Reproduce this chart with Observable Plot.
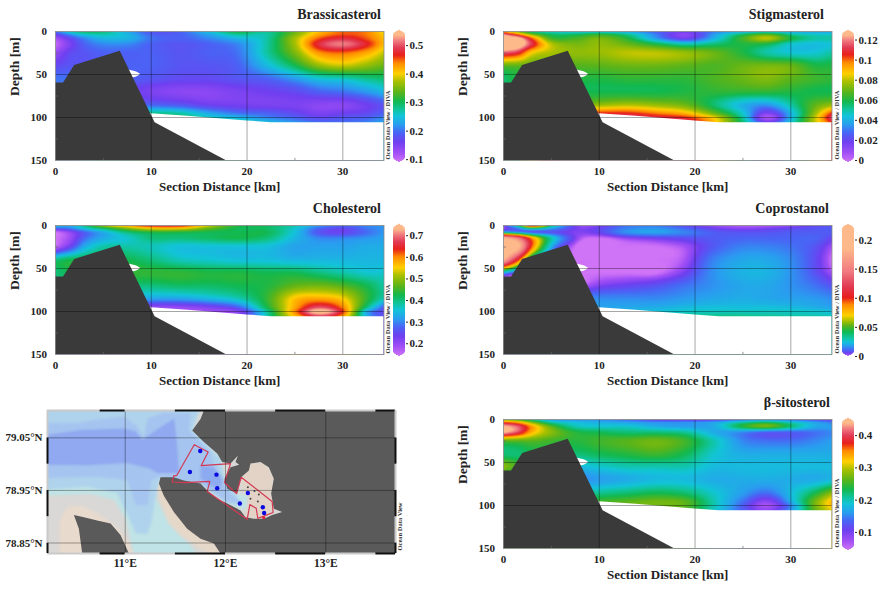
<!DOCTYPE html>
<html><head><meta charset="utf-8">
<script src="https://cdn.jsdelivr.net/npm/d3@7"></script>
<script src="https://cdn.jsdelivr.net/npm/@observablehq/plot@0.6"></script>
<style>
html,body{margin:0;padding:0;background:#fff}
#c{position:relative;width:886px;height:592px;overflow:hidden}
#c svg{position:absolute;background:transparent;overflow:visible}
</style></head><body><div id="c"></div>
<script>
// Section grid nodes
const distNodes = [0,1.5,3,5,7.5,10,13,16,19,22,25,27.5,30,32.5,34.3];
const depthNodes = [0,3,8,15,25,40,55,70,85,95,100,106];

const brassicasterol = [
[.19,.27,.30,.29,.23,.18,.19,.25,.31,.28,.34,.41,.45,.44,.39],
[.17,.22,.26,.27,.24,.19,.19,.23,.28,.27,.35,.42,.45,.44,.40],
[.12,.17,.21,.24,.24,.20,.19,.21,.24,.27,.37,.45,.48,.45,.41],
[.10,.15,.19,.21,.21,.19,.18,.19,.21,.27,.37,.48,.515,.47,.41],
[.13,.17,.18,.19,.19,.19,.18,.19,.20,.27,.35,.43,.445,.42,.38],
[.17,.18,.18,.19,.19,.19,.18,.18,.19,.24,.30,.36,.38,.36,.34],
[.20,.20,.20,.20,.19,.18,.17,.17,.18,.19,.22,.25,.26,.28,.29],
[.20,.20,.20,.20,.17,.15,.14,.14,.15,.16,.17,.19,.20,.22,.24],
[.20,.20,.20,.20,.19,.19,.18,.16,.155,.15,.15,.14,.14,.16,.18],
[.20,.20,.20,.24,.27,.28,.27,.23,.20,.19,.17,.15,.16,.17,.19],
[.20,.20,.22,.26,.29,.30,.29,.26,.24,.21,.19,.17,.18,.19,.21],
[.20,.20,.24,.28,.30,.31,.30,.28,.27,.25,.22,.20,.20,.21,.23]];

const stigmasterol = [
[.090,.070,.050,.045,.040,.040,.035,.025,.020,.030,.035,.040,.035,.035,.035],
[.118,.095,.070,.055,.055,.060,.050,.030,.012,.035,.055,.065,.050,.045,.045],
[.140,.130,.100,.065,.065,.072,.060,.035,.018,.040,.065,.080,.060,.050,.050],
[.142,.135,.110,.080,.072,.075,.070,.060,.050,.055,.060,.058,.045,.042,.044],
[.115,.108,.085,.078,.075,.076,.080,.080,.076,.070,.060,.050,.045,.045,.050],
[.068,.068,.068,.068,.067,.068,.070,.070,.068,.066,.070,.072,.070,.060,.060],
[.055,.060,.060,.060,.060,.060,.062,.062,.062,.066,.070,.073,.068,.064,.062],
[.060,.060,.060,.058,.058,.058,.058,.058,.060,.062,.062,.062,.060,.058,.058],
[.060,.060,.065,.068,.070,.075,.078,.075,.070,.055,.040,.035,.050,.068,.075],
[.060,.060,.080,.100,.105,.105,.105,.098,.090,.070,.045,.015,.040,.075,.105],
[.060,.060,.085,.105,.115,.115,.115,.110,.105,.085,.050,.005,.040,.080,.115],
[.060,.060,.090,.110,.120,.120,.120,.120,.115,.090,.055,.020,.045,.080,.105]];

const cholesterol = [
[.36,.33,.40,.52,.60,.66,.66,.54,.44,.42,.38,.32,.28,.30,.31],
[.28,.30,.36,.42,.50,.56,.56,.48,.42,.41,.36,.28,.25,.29,.31],
[.14,.20,.27,.33,.40,.43,.43,.42,.42,.42,.35,.26,.24,.28,.31],
[.14,.19,.28,.33,.36,.40,.40,.41,.42,.40,.34,.30,.30,.31,.32],
[.16,.24,.33,.38,.38,.37,.35,.35,.35,.35,.32,.32,.32,.33,.33],
[.40,.42,.42,.42,.42,.40,.37,.36,.35,.35,.34,.34,.34,.34,.34],
[.40,.42,.43,.44,.44,.44,.44,.43,.43,.42,.42,.40,.38,.36,.36],
[.40,.40,.40,.40,.40,.40,.41,.41,.42,.43,.47,.48,.46,.42,.38],
[.36,.36,.35,.34,.33,.32,.32,.34,.37,.44,.56,.58,.55,.44,.37],
[.30,.28,.26,.24,.22,.20,.20,.22,.27,.42,.58,.68,.60,.40,.27],
[.26,.24,.22,.20,.18,.17,.17,.19,.21,.38,.60,.75,.63,.33,.24],
[.24,.22,.20,.19,.18,.17,.17,.18,.20,.37,.56,.66,.58,.33,.25]];

const coprostanol = [
[.005,.040,.120,.040,.005,.004,.012,.012,.006,.002,.001,.001,.002,.006,.008],
[.002,.015,.040,.020,.005,.006,.014,.016,.010,.005,.003,.004,.006,.008,.009],
[.030,.020,.010,.008,.004,.006,.016,.018,.014,.009,.008,.008,.009,.009,.009],
[.190,.150,.085,.030,.004,0,.003,.005,.007,.009,.010,.010,.010,.010,.006],
[.220,.190,.090,.020,0,0,0,0,.002,.009,.014,.014,.012,.008,.002],
[.180,.100,.025,0,0,0,0,0,.002,.014,.019,.019,.015,.007,0],
[.020,.006,0,0,0,0,0,0,.005,.016,.021,.021,.016,.008,.002],
[0,0,0,0,0,.004,.006,.008,.012,.016,.019,.019,.016,.012,.008],
[.004,.006,.008,.010,.014,.015,.015,.015,.017,.019,.020,.019,.018,.017,.015],
[.006,.008,.010,.012,.014,.018,.019,.020,.022,.023,.023,.023,.022,.020,.018],
[.008,.010,.012,.014,.016,.020,.022,.024,.026,.027,.027,.027,.026,.025,.023],
[.010,.012,.014,.016,.018,.022,.025,.029,.033,.035,.035,.033,.031,.030,.028]];

const sitosterol = [
[.26,.24,.20,.16,.15,.15,.13,.10,.09,.10,.13,.14,.13,.11,.10],
[.36,.33,.27,.20,.18,.17,.16,.15,.15,.16,.20,.22,.19,.16,.14],
[.44,.41,.34,.26,.20,.19,.19,.17,.16,.17,.24,.27,.22,.17,.16],
[.44,.40,.33,.28,.24,.23,.22,.22,.21,.17,.15,.13,.13,.14,.15],
[.26,.26,.26,.25,.24,.25,.26,.27,.25,.20,.15,.14,.14,.15,.16],
[.22,.22,.23,.23,.22,.23,.24,.25,.23,.19,.17,.17,.17,.17,.17],
[.28,.25,.22,.20,.18,.19,.20,.20,.20,.18,.18,.18,.18,.18,.18],
[.20,.18,.17,.16,.15,.16,.17,.18,.18,.17,.17,.17,.17,.17,.18],
[.20,.20,.20,.20,.20,.21,.22,.23,.22,.19,.16,.14,.18,.23,.28],
[.24,.24,.24,.24,.24,.25,.26,.27,.26,.20,.14,.09,.17,.27,.33],
[.25,.25,.25,.25,.25,.26,.27,.27,.26,.20,.13,.07,.15,.27,.33],
[.25,.25,.25,.25,.25,.26,.27,.27,.25,.19,.13,.09,.16,.26,.31]];

// Terrain
const terrainDist  = [0,0.84,2,6.76,10.4,17.8];
const terrainDepth = [60,60,39.5,23,106,150];
const floorDist  = [7,10,13.8,20,22.5,34.3];
const floorDepth = [95,95.5,98.5,104,106,106];
const gapDist  = [7.5,7.7,8.2,8.6,8.9];
const gapTop   = [44,45,46,47.5,50];
const gapBot   = [56,55,54,52.5,50];

// Colour bar
const barColors = ["#cf73f7","#a24ff5","#6f3ff0","#4a63f5","#2a9cf0","#12c4d8","#10c49a","#12b84e","#5ab41a","#a8c000","#ffd000","#ff8c00","#e8201c","#e23a55","#f07a80","#fdb98a","#fdb98a"];
const stopsBrassicasterol = [.09,.122,.16,.192,.22,.252,.275,.303,.335,.372,.40,.437,.465,.49,.515,.535,.553];
const stopsStigmasterol   = [-.002,.007,.018,.027,.035,.044,.051,.058,.068,.078,.086,.097,.105,.112,.119,.1245,.1295];
const stopsCholesterol    = [.141,.184,.233,.275,.312,.355,.385,.422,.465,.514,.55,.6,.636,.67,.703,.728,.752];
const stopsCoprostanol    = [0,.002,.005,.010,.017,.024,.032,.042,.052,.060,.070,.088,.100,.120,.145,.185,.2266];
const stopsSitosterol     = [.044,.073,.105,.134,.158,.187,.208,.232,.261,.293,.318,.351,.375,.398,.42,.437,.453];
const ticksBrassicasterol = [.1,.2,.3,.4,.5];
const ticksStigmasterol   = [0,.02,.04,.06,.08,.1,.12];
const ticksCholesterol    = [.2,.3,.4,.5,.6,.7];
const ticksCoprostanol    = [0,.05,.1,.15,.2];
const ticksSitosterol     = [.1,.2,.3,.4];

// Map data (lon, lat)
const seaShelf = [[10.1,79.13],[11.784,79.13],[11.668,79.064],[11.950,79.010],[11.990,78.972],[12.083,78.944],[12.233,78.940],[12.216,78.912],[12.017,78.925],[11.751,78.963],[11.355,78.973],[11.305,78.935],[11.454,78.884],[11.654,78.846],[11.786,78.80],[11.122,78.80],[11.056,78.853],[11.006,78.897],[10.889,78.932],[10.657,78.943],[10.1,78.94]];
const seaUpper = [[10.1,78.951],[10.624,78.957],[10.923,78.945],[11.039,78.897],[11.105,78.869],[11.222,78.867],[11.262,78.891],[11.295,78.929],[11.338,78.970],[11.751,78.963],[12.017,78.925],[12.17,78.92],[12.1,78.945],[11.99,78.97],[11.95,79.01],[11.668,79.064],[11.784,79.13],[10.1,79.13]];
const seaMid = [[10.1,79.078],[10.524,79.078],[10.690,79.084],[10.989,79.090],[11.105,79.074],[11.188,79.052],[11.222,79.087],[11.388,79.098],[11.654,79.097],[11.635,79.064],[11.85,79.023],[11.884,78.997],[11.983,78.966],[12.05,78.944],[12.15,78.928],[12.017,78.928],[11.751,78.963],[11.338,78.976],[11.262,78.970],[11.222,78.922],[11.105,78.922],[11.022,78.970],[10.723,78.976],[10.1,78.973]];
const seaDeep = [[10.1,79.052],[10.557,79.065],[10.989,79.068],[11.105,79.062],[11.172,79.046],[11.288,79.062],[11.488,79.087],[11.514,79.043],[11.537,78.983],[11.321,78.983],[11.238,78.992],[11.022,79.002],[10.624,78.998],[10.1,78.999]];
const seaBasin = [[11.751,78.997],[11.884,78.994],[11.967,78.972],[11.950,78.953],[11.850,78.959],[11.751,78.972]];
const shoalSW = [[10.341,78.80],[10.341,78.891],[10.424,78.919],[10.557,78.922],[10.757,78.903],[10.923,78.878],[11.056,78.846],[11.139,78.80]];
const shoalNE = [[12.249,79.001],[12.349,79.004],[12.432,78.994],[12.482,78.972],[12.455,78.944],[12.482,78.912],[12.382,78.896],[12.199,78.899],[12.233,78.940],[12.150,78.966]];
const shoalStrip = [[11.31,78.955],[11.36,78.925],[11.43,78.89],[11.55,78.865],[11.70,78.845],[11.83,78.83],[11.9,78.81],[12,78.81],[12,78.9],[11.5,78.93],[11.38,78.97]];
const landEast = [[11.784,79.102],[13.695,79.102],[13.695,78.83],[11.950,78.83],[11.884,78.849],[11.751,78.858],[11.618,78.877],[11.485,78.909],[11.385,78.940],[11.336,78.963],[11.352,78.975],[11.485,78.975],[11.585,78.969],[11.751,78.963],[11.817,78.950],[11.917,78.934],[12.017,78.925],[12.150,78.912],[12.199,78.899],[12.282,78.896],[12.382,78.896],[12.465,78.903],[12.565,78.909],[12.482,78.915],[12.455,78.944],[12.482,78.972],[12.432,78.994],[12.349,79.004],[12.249,79.001],[12.233,78.988],[12.156,78.975],[12.116,78.944],[12.017,78.953],[11.990,78.972],[12.050,78.994],[12.136,78.999],[12.100,79.004],[12.123,79.016],[12.050,79.001],[11.967,79.004],[11.917,79.020],[11.784,79.042],[11.668,79.064],[11.751,79.086]];
const landWest = [[10.488,78.903],[10.588,78.899],[10.721,78.893],[10.854,78.887],[10.953,78.865],[11.037,78.83],[10.571,78.83],[10.538,78.877]];
const surveyArea = [[11.688,79.037],[11.827,79.023],[11.757,78.997],[12.050,79.001],[11.990,78.965],[12.110,78.944],[12.156,78.975],[12.465,78.929],[12.475,78.908],[12.382,78.901],[12.322,78.897],[12.306,78.916],[12.243,78.923],[12.216,78.895],[11.817,78.948],[11.844,78.967],[11.595,78.965],[11.468,78.966],[11.485,78.978],[11.512,78.978],[11.688,79.037]];
const stations = [[11.748,79.025],[11.645,78.985],[11.910,78.980],[11.917,78.954],[12.223,78.945],[12.143,78.925],[12.372,78.918],[12.385,78.907]];
const islets = [[12.223,78.956],[12.289,78.949],[12.332,78.942],[12.249,78.934],[12.322,78.929]];
const redMarker = [[12.382,78.898]];
const lonTicks = [11,12,13];
const latTicks = [78.85,78.95,79.05];
const frameLon = [[10.225,10.75,"#c9c9c9"],[10.75,11,"#111"],[11,11.5,"#c9c9c9"],[11.5,12,"#111"],[12,12.5,"#c9c9c9"],[12.5,13,"#111"],[13,13.5,"#c9c9c9"],[13.5,13.695,"#111"]];
const frameLat = [[78.83,78.85,"#111"],[78.85,78.9,"#c9c9c9"],[78.9,78.95,"#111"],[78.95,79.0,"#c9c9c9"],[79.0,79.05,"#111"],[79.05,79.102,"#c9c9c9"]];

const SERIF = "'Liberation Serif','Times New Roman',serif";
const INK = "#222";
const root = document.getElementById("c");
function place(svg,left,top){svg.style.left=left+"px";svg.style.top=top+"px";root.appendChild(svg);}

// smooth cubic Hermite across non-uniform nodes
function hermite(xs,vs,x){
  const n=xs.length; if(x<=xs[0])return vs[0]; if(x>=xs[n-1])return vs[n-1];
  let i=d3.bisectRight(xs,x)-1; if(i>=n-1)i=n-2;
  const h=xs[i+1]-xs[i],t=(x-xs[i])/h;
  const m0=i>0?(vs[i+1]-vs[i-1])/(xs[i+1]-xs[i-1]):(vs[i+1]-vs[i])/h;
  const m1=i<n-2?(vs[i+2]-vs[i])/(xs[i+2]-xs[i]):(vs[i+1]-vs[i])/h;
  const t2=t*t,t3=t2*t;
  return (2*t3-3*t2+1)*vs[i]+(t3-2*t2+t)*h*m0+(-2*t3+3*t2)*vs[i+1]+(t3-t2)*h*m1;
}
function field(grid){
  return (x,y)=>hermite(depthNodes,grid.map(r=>hermite(distNodes,r,x)),y);
}

function section({grid,stops,ticks,title,left,top,titleDx,barLeft}){
  const w=328.5,h=129;
  const xDomain=[0,34.3], yDomain=[0,150];
  const main=Plot.plot({
    width:55+w+3,height:31+h+38,marginLeft:55,marginRight:3,marginTop:31,marginBottom:38,
    x:{domain:xDomain,axis:null},y:{domain:yDomain,reverse:true,axis:null},
    color:{type:"linear",domain:stops,range:barColors,clamp:true,interpolate:"rgb"},
    style:{fontFamily:SERIF,fontWeight:"bold",color:INK,background:"transparent"},
    marks:[
      Plot.raster({fill:field(grid),x1:0,x2:34.3,y1:0,y2:150,pixelSize:1}),
      Plot.areaY(floorDist,{x:d=>d,y1:(d,i)=>floorDepth[i],y2:()=>150,fill:"#fff"}),
      Plot.area(gapDist,{x1:d=>d,y1:(d,i)=>gapTop[i],y2:(d,i)=>gapBot[i],fill:"#fff",curve:"basis"}),
      Plot.areaY(terrainDist,{x:d=>d,y1:(d,i)=>terrainDepth[i],y2:()=>150,fill:"#3a3a3a"}),
      Plot.ruleX([10,20,30],{stroke:"#000",strokeOpacity:.5,strokeWidth:.7}),
      Plot.ruleY([50,100],{stroke:"#000",strokeOpacity:.5,strokeWidth:.7}),
      Plot.ruleX([5,15,25],{y1:147.5,y2:150,stroke:"#666",strokeWidth:.7}),
      Plot.ruleY([25,75,125],{x1:0,x2:.3,stroke:"#666",strokeWidth:.7}),
      Plot.frame({stroke:"#888",strokeWidth:.8}),
      Plot.axisX({ticks:[0,10,20,30],tickSize:0,tickPadding:7,fontSize:11,fontWeight:"bold",label:null}),
      Plot.axisY({ticks:[0,50,100,150],tickSize:0,tickPadding:8.5,fontSize:11,fontWeight:"bold",label:null}),
      Plot.text(["Section Distance [km]"],{frameAnchor:"bottom",dy:30,fontSize:13,fontWeight:"bold",fill:INK}),
      Plot.text(["Depth [m]"],{frameAnchor:"left",rotate:-90,dx:-41,fontSize:13.5,fontWeight:"bold",fill:INK}),
      Plot.text([title],{frameAnchor:"top-right",textAnchor:"end",dx:titleDx,dy:-22,fontSize:14,fontWeight:"bold",fill:INK})
    ]
  });
  place(main,left,top);

  const lo=stops[0],hi=stops[stops.length-1],n=132,step=(hi-lo)/n;
  const insets=[.42,.24,.12,.05,.01];
  const cells=d3.range(n).map(i=>{
    const e=Math.min(i,n-1-i),ins=e<insets.length?insets[e]:0;
    return {a:lo+i*step,b:lo+(i+1.15)*step,v:lo+(i+.5)*step,x1:ins,x2:1-ins};
  });
  const bar=Plot.plot({
    width:57,height:195,marginLeft:7,marginRight:38,marginTop:30,marginBottom:33,
    x:{domain:[0,1],axis:null},y:{domain:[lo,hi],axis:null},
    color:{type:"linear",domain:stops,range:barColors,clamp:true,interpolate:"rgb"},
    style:{fontFamily:SERIF,fontWeight:"bold",color:INK,background:"transparent"},
    marks:[
      Plot.rect(cells,{x1:"x1",x2:"x2",y1:"a",y2:"b",fill:"v",inset:0}),
      Plot.axisY({anchor:"right",ticks,tickSize:2,tickPadding:2,tickFormat:d=>String(d),fontSize:11,fontWeight:"bold",label:null}),
      Plot.text(["Ocean Data View / DIVA"],{frameAnchor:"bottom-left",textAnchor:"start",rotate:-90,dx:-3.5,dy:-3,fontSize:6.5,fontWeight:"bold",fill:"#333"})
    ]
  });
  place(bar,barLeft,top);
}

section({grid:brassicasterol,stops:stopsBrassicasterol,ticks:ticksBrassicasterol,title:"Brassicasterol",left:0,top:0,titleDx:-3,barLeft:386});
section({grid:stigmasterol,stops:stopsStigmasterol,ticks:ticksStigmasterol,title:"Stigmasterol",left:448.3,top:0,titleDx:-8,barLeft:835});
section({grid:cholesterol,stops:stopsCholesterol,ticks:ticksCholesterol,title:"Cholesterol",left:0,top:194,titleDx:-3,barLeft:386});
section({grid:coprostanol,stops:stopsCoprostanol,ticks:ticksCoprostanol,title:"Coprostanol",left:448.3,top:194,titleDx:-3,barLeft:835});
section({grid:sitosterol,stops:stopsSitosterol,ticks:ticksSitosterol,title:"β-sitosterol",left:448.3,top:387.7,titleDx:-2,barLeft:835});

// Map
const wash=(pts,fill,b)=>Plot.line(pts,{fill,stroke:"none",clip:"frame",imageFilter:`blur(${b}px)`});
const poly=(pts,fill)=>Plot.line(pts,{fill,stroke:"none"});
const map=Plot.plot({
  width:443,height:180,marginLeft:47,marginRight:48,marginTop:15,marginBottom:22,
  x:{domain:[10.225,13.695],axis:null},y:{domain:[78.83,79.102],axis:null},
  style:{fontFamily:SERIF,fontWeight:"bold",color:INK,background:"transparent"},
  marks:[
    Plot.frame({fill:"#d9d8d6",stroke:"none"}),
    wash(shoalSW,"#e8dacd",1.5),
    wash(seaShelf,"#bfe3e6",1.5),wash(shoalStrip,"#e6d8c8",1.5),
    wash(seaUpper,"#afd3ec",1.2),wash(seaMid,"#a6c4f0",1.2),wash(seaDeep,"#90a9f0",1.2),wash(seaBasin,"#8caaf0",1.5),
    wash(shoalNE,"#e2d3c6",1.5),
    poly(landEast,"#5a5a5a"),poly(landWest,"#5a5a5a"),
    Plot.dot(islets,{r:1,fill:"#444"}),
    Plot.line(surveyArea,{stroke:"#d23a55",strokeWidth:1.2}),
    Plot.dot(redMarker,{r:1.6,fill:"#e0203a"}),
    Plot.dot(stations,{r:2.2,fill:"#0a0ae0"}),
    Plot.ruleX(lonTicks,{stroke:"#000",strokeOpacity:.5,strokeWidth:.7}),
    Plot.ruleY(latTicks,{stroke:"#000",strokeOpacity:.5,strokeWidth:.7}),
    Plot.ruleY(frameLon,{y:()=>79.102,x1:"0",x2:"1",stroke:"2",strokeWidth:2}),
    Plot.ruleY(frameLon,{y:()=>78.83,x1:"0",x2:"1",stroke:"2",strokeWidth:2}),
    Plot.ruleX(frameLat,{x:()=>10.225,y1:"0",y2:"1",stroke:"2",strokeWidth:2}),
    Plot.ruleX(frameLat,{x:()=>13.695,y1:"0",y2:"1",stroke:"2",strokeWidth:2}),
    Plot.axisX({ticks:lonTicks,tickSize:0,tickPadding:5,tickFormat:d=>d+"°E",fontSize:11.5,fontWeight:"bold",label:null}),
    Plot.axisY({ticks:latTicks,tickSize:0,tickPadding:5,tickFormat:d=>d.toFixed(2)+"°N",fontSize:11,fontWeight:"bold",label:null}),
    Plot.text(["Ocean Data View"],{frameAnchor:"bottom-right",textAnchor:"start",rotate:-90,dx:6,dy:-3,fontSize:6.5,fontWeight:"bold",fill:"#333"})
  ]
});
place(map,0,395);
</script></body></html>
